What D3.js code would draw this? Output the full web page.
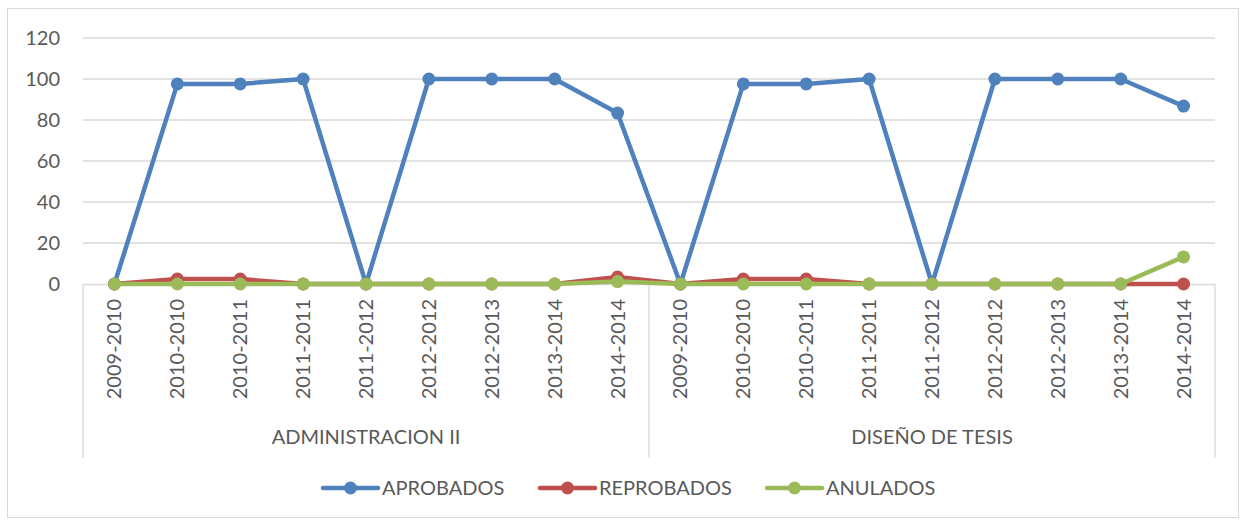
<!DOCTYPE html>
<html>
<head>
<meta charset="utf-8">
<script src="https://cdn.jsdelivr.net/npm/d3@7"></script>
<style>
  body { margin: 0; background: #fff; }
  text { font-family: Lato, "Liberation Sans", sans-serif; fill: #595959; }
</style>
</head>
<body>
<div id="chart-area"></div>
<script>
// data
const groups = ["ADMINISTRACION II", "DISEÑO DE TESIS"];
const periods = ["2009-2010", "2010-2010", "2010-2011", "2011-2011", "2011-2012",
                 "2012-2012", "2012-2013", "2013-2014", "2014-2014"];
const aprobados = [0, 97.6, 97.6, 100, 0, 100, 100, 100, 83.4,
                   0, 97.6, 97.6, 100, 0, 100, 100, 100, 86.8];
const reprobados = [0, 2.4, 2.4, 0, 0, 0, 0, 0, 3.4,
                    0, 2.4, 2.4, 0, 0, 0, 0, 0, 0];
const anulados = [0, 0, 0, 0, 0, 0, 0, 0, 1.2,
                  0, 0, 0, 0, 0, 0, 0, 0, 13.2];
const yTicks = [0, 20, 40, 60, 80, 100, 120];

const seriesNames = ["APROBADOS", "REPROBADOS", "ANULADOS"];
const seriesColors = ["#4F81BD", "#C0504D", "#9BBB59"];
const seriesValues = [aprobados, reprobados, anulados];

const full_width = 1247, full_height = 524;
const margin = { left: 83, right: 32, top: 38, bottom: 240 };
const width = full_width - margin.left - margin.right;
const height = full_height - margin.top - margin.bottom;

const svg = d3.select("#chart-area").append("svg")
    .attr("width", full_width).attr("height", full_height);

// chart border
svg.append("rect")
    .attr("x", 7.5).attr("y", 8.5)
    .attr("width", 1231).attr("height", 509)
    .attr("fill", "none").attr("stroke", "#d9d9d9");

const g = svg.append("g").attr("transform", "translate(" + margin.left + ", " + margin.top + ")");

// categories: group x period
const cats = [];
groups.forEach((grp, gi) => periods.forEach((p, pi) => cats.push({ group: grp, period: p, i: gi * periods.length + pi })));

const x = d3.scaleBand().domain(cats.map(d => d.i)).range([0, width]);
const cx = i => x(i) + x.bandwidth() / 2;

const y = d3.scaleLinear().domain([0, 120]).range([height, 0]);

// gridlines
g.append("g").selectAll("line").data(yTicks.filter(t => t > 0)).enter()
    .append("line")
    .attr("x1", 0).attr("x2", width)
    .attr("y1", d => y(d)).attr("y2", d => y(d))
    .attr("stroke", "#d9d9d9").attr("stroke-width", 1.3);

// y axis
const yAxisCall = d3.axisLeft(y).tickValues(yTicks).tickSize(0).tickPadding(23);
const yAxis = g.append("g").attr("class", "y-axis").call(yAxisCall);
yAxis.select(".domain").remove();
yAxis.selectAll("text").attr("font-size", "20px");

// x axis (periods)
const xAxisCall = d3.axisBottom(x).tickSize(0).tickFormat(i => cats[i].period);
const xAxis = g.append("g")
    .attr("class", "x-axis")
    .attr("transform", "translate(0, " + height + ")")
    .call(xAxisCall);
xAxis.select(".domain").attr("stroke", "#d9d9d9").attr("stroke-width", 1.3);
xAxis.selectAll("text")
    .attr("font-size", "20px")
    .attr("text-anchor", "end")
    .attr("dy", "0.35em")
    .attr("transform", "translate(0, 15) rotate(-90)")
    .attr("x", 0).attr("y", 0);

// group dividers
const bounds = [0, periods.length, cats.length];
g.append("g").selectAll("line").data(bounds).enter()
    .append("line")
    .attr("x1", d => d < cats.length ? x(d) : width)
    .attr("x2", d => d < cats.length ? x(d) : width)
    .attr("y1", height).attr("y2", height + 174)
    .attr("stroke", "#d9d9d9").attr("stroke-width", 1.3);

// group labels
g.append("g").selectAll("text").data(groups).enter()
    .append("text")
    .attr("x", (d, gi) => (x(gi * periods.length) + x((gi + 1) * periods.length - 1) + x.bandwidth()) / 2)
    .attr("y", height + 160)
    .attr("text-anchor", "middle")
    .attr("font-size", "20px")
    .text(d => d);

// lines
const line = d3.line().x((d, i) => cx(i)).y(d => y(d));

seriesValues.forEach((vals, si) => {
    const sg = g.append("g");
    sg.append("path")
        .datum(vals)
        .attr("d", line)
        .attr("fill", "none")
        .attr("stroke", seriesColors[si])
        .attr("stroke-width", 4.5)
        .attr("stroke-linejoin", "round");
    sg.selectAll("circle").data(vals).enter()
        .append("circle")
        .attr("cx", (d, i) => cx(i))
        .attr("cy", d => y(d))
        .attr("r", 6.5)
        .attr("fill", seriesColors[si]);
});

// legend
const legendX = [323, 540, 767];
const legend = svg.append("g").attr("transform", "translate(0, 488)");
seriesNames.forEach((name, si) => {
    const lg = legend.append("g").attr("transform", "translate(" + legendX[si] + ", 0)");
    lg.append("line").attr("x1", 0).attr("x2", 55).attr("y1", 0).attr("y2", 0)
        .attr("stroke", seriesColors[si]).attr("stroke-width", 4.5).attr("stroke-linecap", "round");
    lg.append("circle").attr("cx", 27.5).attr("cy", 0).attr("r", 6.5).attr("fill", seriesColors[si]);
    lg.append("text").attr("x", 59).attr("y", 0).attr("dy", "0.35em")
        .attr("font-size", "20px").text(name);
});
</script>
</body>
</html>
